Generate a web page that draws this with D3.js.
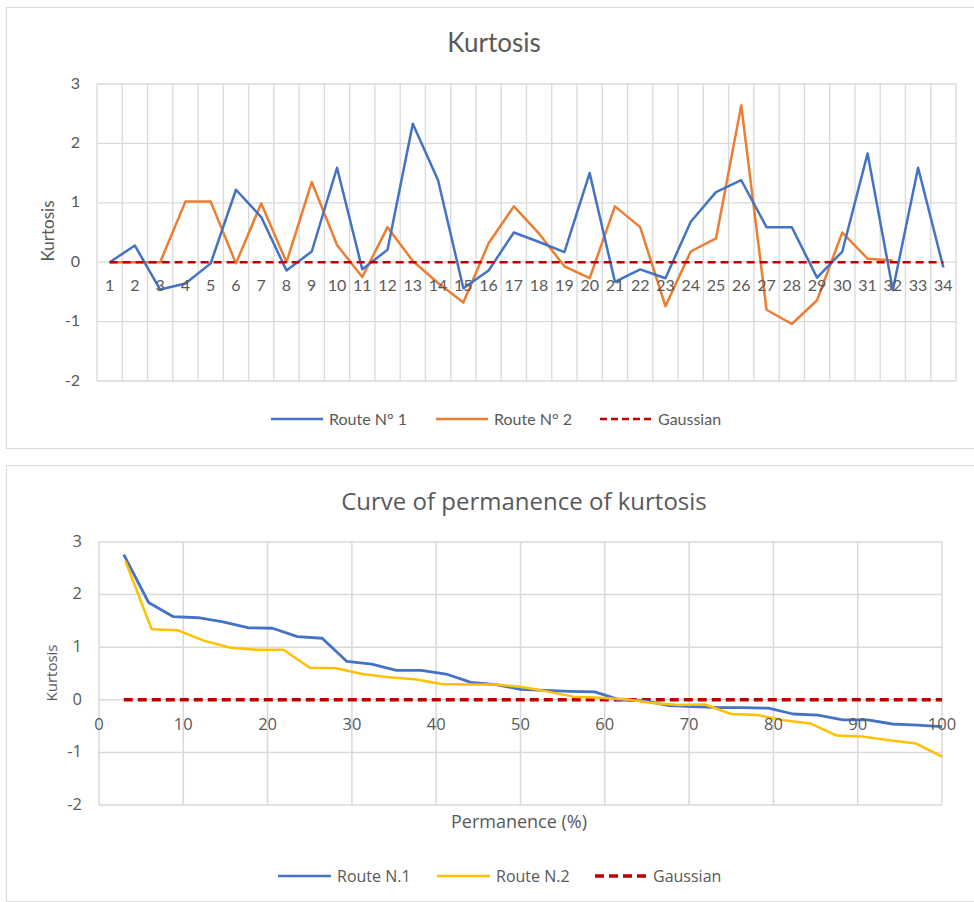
<!DOCTYPE html>
<html>
<head>
<meta charset="utf-8">
<script src="https://cdn.jsdelivr.net/npm/d3@7"></script>
<style>
  html, body { margin: 0; padding: 0; background: #fff; }
  svg { display: block; }
</style>
</head>
<body>
<svg id="chart" width="974" height="902"></svg>
<script>
// ---------- Data: top chart (Kurtosis per section) ----------
const categories = ["1","2","3","4","5","6","7","8","9","10","11","12","13","14","15","16","17","18","19","20","21","22","23","24","25","26","27","28","29","30","31","32","33","34"];
const route1 = [0.00,0.28,-0.46,-0.36,-0.02,1.22,0.76,-0.14,0.18,1.59,-0.12,0.21,2.33,1.38,-0.44,-0.14,0.50,0.34,0.17,1.50,-0.33,-0.12,-0.27,0.68,1.18,1.38,0.59,0.59,-0.26,0.18,1.83,-0.47,1.59,-0.09];
const route2 = [0.00,0.00,0.00,1.02,1.02,-0.02,0.99,0.00,1.35,0.29,-0.25,0.59,0.02,-0.35,-0.68,0.32,0.94,0.48,-0.07,-0.27,0.94,0.59,-0.74,0.18,0.40,2.64,-0.80,-1.04,-0.64,0.50,0.06,0.03,null,null];
const gaussianTop = [0,0,0,0,0,0,0,0,0,0,0,0,0,0,0,0,0,0,0,0,0,0,0,0,0,0,0,0,0,0,0,0,0,0];
const yTicksTop = [-2,-1,0,1,2,3];

// ---------- Data: bottom chart (permanence curve) ----------
const perm1 = [2.94,5.88,8.82,11.76,14.71,17.65,20.59,23.53,26.47,29.41,32.35,35.29,38.24,41.18,44.12,47.06,50,52.94,55.88,58.82,61.76,64.71,67.65,70.59,73.53,76.47,79.41,82.35,85.29,88.24,91.18,94.12,97.06,100];
const curve1 = [2.76,1.85,1.58,1.56,1.48,1.37,1.36,1.20,1.17,0.73,0.68,0.56,0.56,0.49,0.33,0.29,0.20,0.18,0.16,0.15,0.00,-0.02,-0.11,-0.13,-0.15,-0.15,-0.16,-0.27,-0.29,-0.38,-0.38,-0.46,-0.48,-0.51];
const perm2 = [3.13,6.25,9.38,12.5,15.63,18.75,21.88,25,28.13,31.25,34.38,37.5,40.63,43.75,46.88,50,53.13,56.25,59.38,62.5,65.63,68.75,71.88,75,78.13,81.25,84.38,87.5,90.63,93.75,96.88,100];
const curve2 = [2.64,1.34,1.32,1.12,0.99,0.95,0.95,0.61,0.60,0.49,0.43,0.39,0.30,0.29,0.29,0.25,0.16,0.06,0.04,0.01,-0.06,-0.10,-0.09,-0.27,-0.29,-0.39,-0.45,-0.68,-0.70,-0.77,-0.83,-1.08];
const gaussianBottom = [0,0,0,0,0,0,0,0,0,0,0,0,0,0,0,0,0,0,0,0,0,0,0,0,0,0,0,0,0,0,0,0,0,0];
const xTicksBottom = [0,10,20,30,40,50,60,70,80,90,100];
const yTicksBottom = [-2,-1,0,1,2,3];

const C_BLUE = "#4472C4", C_ORANGE = "#ED7D31", C_YELLOW = "#FFC000", C_RED = "#C00000";
const C_GRID = "#d9d9d9", C_TEXT = "#595959";

const svg = d3.select("#chart");

// ================= TOP CHART =================
const gTop = svg.append("g");
gTop.append("rect").attr("x", 6.5).attr("y", 7.5).attr("width", 980).attr("height", 441)
  .attr("fill", "#fff").attr("stroke", C_GRID).attr("stroke-width", 1);

const fTop = "Lato, 'Open Sans', sans-serif";
const xT = d3.scaleBand().domain(categories).range([97, 956]).padding(0);
const yT = d3.scaleLinear().domain([-2, 3]).range([381, 84]);

// horizontal grid
gTop.append("g").selectAll("line").data(yTicksTop).join("line")
  .attr("x1", 97).attr("x2", 956)
  .attr("y1", d => yT(d)).attr("y2", d => yT(d))
  .attr("stroke", C_GRID).attr("stroke-width", 1.3);
// vertical grid at category boundaries
const bounds = categories.map(c => xT(c)).concat([xT(categories[categories.length - 1]) + xT.bandwidth()]);
gTop.append("g").selectAll("line").data(bounds).join("line")
  .attr("x1", d => d).attr("x2", d => d)
  .attr("y1", yT(3)).attr("y2", yT(-2))
  .attr("stroke", C_GRID).attr("stroke-width", 1.3);

// y tick labels
gTop.append("g").selectAll("text").data(yTicksTop).join("text")
  .attr("x", 80).attr("y", d => yT(d) - 1).attr("dy", "0.35em")
  .attr("text-anchor", "end").attr("fill", C_TEXT)
  .style("font-family", fTop).style("font-size", "16px").text(d => d);
// y axis title
gTop.append("text").attr("transform", "translate(54,231) rotate(-90)")
  .attr("text-anchor", "middle").attr("fill", C_TEXT)
  .style("font-family", fTop).style("font-size", "17px").text("Kurtosis");
// title
gTop.append("text").attr("x", 494).attr("y", 43).attr("dy", "0.35em")
  .attr("text-anchor", "middle").attr("fill", C_TEXT)
  .style("font-family", fTop).style("font-size", "26px").text("Kurtosis");

const cx = d => xT(d) + xT.bandwidth() / 2;
const lineTop = d3.line().defined(d => d.v !== null).x(d => cx(d.c)).y(d => yT(d.v));
const zipTop = arr => categories.map((c, i) => ({ c: c, v: arr[i] }));

gTop.append("path").datum(zipTop(route2)).attr("d", lineTop)
  .attr("fill", "none").attr("stroke", C_ORANGE).attr("stroke-width", 2.5).attr("stroke-linejoin", "round");
gTop.append("path").datum(zipTop(route1)).attr("d", lineTop)
  .attr("fill", "none").attr("stroke", C_BLUE).attr("stroke-width", 2.5).attr("stroke-linejoin", "round");
gTop.append("path").datum(zipTop(gaussianTop)).attr("d", lineTop)
  .attr("fill", "none").attr("stroke", C_RED).attr("stroke-width", 2.5).attr("stroke-dasharray", "8,5");

// category labels (just below the 0 line)
gTop.append("g").selectAll("text").data(categories).join("text")
  .attr("x", d => cx(d)).attr("y", yT(0) + 29)
  .attr("text-anchor", "middle").attr("fill", C_TEXT)
  .style("font-family", fTop).style("font-size", "16px").text(d => d);

// legend top
const legTop = [
  { label: "Route N° 1", color: C_BLUE, dash: null, x: 271 },
  { label: "Route N° 2", color: C_ORANGE, dash: null, x: 436 },
  { label: "Gaussian", color: C_RED, dash: "7,4", x: 600 }
];
legTop.forEach(l => {
  gTop.append("line").attr("x1", l.x).attr("x2", l.x + 52).attr("y1", 419).attr("y2", 419)
    .attr("stroke", l.color).attr("stroke-width", 2.5).attr("stroke-dasharray", l.dash);
  gTop.append("text").attr("x", l.x + 58).attr("y", 419).attr("dy", "0.35em")
    .attr("fill", C_TEXT).style("font-family", fTop).style("font-size", "16px").text(l.label);
});

// ================= BOTTOM CHART =================
const gBot = svg.append("g");
gBot.append("rect").attr("x", 6.5).attr("y", 465.5).attr("width", 980).attr("height", 436)
  .attr("fill", "#fff").attr("stroke", C_GRID).attr("stroke-width", 1);

const fBot = "'Open Sans', 'Noto Sans', sans-serif";
const xB = d3.scaleLinear().domain([0, 100]).range([99, 942]);
const yB = d3.scaleLinear().domain([-2, 3]).range([805, 542]);

gBot.append("g").selectAll("line").data(yTicksBottom).join("line")
  .attr("x1", xB(0)).attr("x2", xB(100))
  .attr("y1", d => yB(d)).attr("y2", d => yB(d))
  .attr("stroke", C_GRID).attr("stroke-width", 1.5);
gBot.append("g").selectAll("line").data(xTicksBottom).join("line")
  .attr("x1", d => xB(d)).attr("x2", d => xB(d))
  .attr("y1", yB(3)).attr("y2", yB(-2))
  .attr("stroke", C_GRID).attr("stroke-width", 1.5);

gBot.append("g").selectAll("text").data(yTicksBottom).join("text")
  .attr("x", 82).attr("y", d => yB(d) - 1).attr("dy", "0.35em")
  .attr("text-anchor", "end").attr("fill", C_TEXT)
  .style("font-family", fBot).style("font-size", "16.5px").text(d => d);
gBot.append("text").attr("transform", "translate(57,673) rotate(-90)")
  .attr("text-anchor", "middle").attr("fill", C_TEXT)
  .style("font-family", fBot).style("font-size", "15px").text("Kurtosis");
gBot.append("text").attr("x", 524).attr("y", 502).attr("dy", "0.35em")
  .attr("text-anchor", "middle").attr("fill", C_TEXT)
  .style("font-family", fBot).style("font-size", "24px").text("Curve of permanence of kurtosis");
gBot.append("text").attr("x", 519).attr("y", 822).attr("dy", "0.35em")
  .attr("text-anchor", "middle").attr("fill", C_TEXT)
  .style("font-family", fBot).style("font-size", "18px").text("Permanence (%)");

const lineB = d3.line().x(d => xB(d.p)).y(d => yB(d.v));
const zipB = (ps, vs) => ps.map((p, i) => ({ p: p, v: vs[i] }));

gBot.append("path").datum(zipB(perm1, gaussianBottom)).attr("d", lineB)
  .attr("fill", "none").attr("stroke", C_RED).attr("stroke-width", 3.5).attr("stroke-dasharray", "9,5");
gBot.append("path").datum(zipB(perm1, curve1)).attr("d", lineB)
  .attr("fill", "none").attr("stroke", C_BLUE).attr("stroke-width", 2.8).attr("stroke-linejoin", "round");
gBot.append("path").datum(zipB(perm2, curve2)).attr("d", lineB)
  .attr("fill", "none").attr("stroke", C_YELLOW).attr("stroke-width", 2.5).attr("stroke-linejoin", "round");

gBot.append("g").selectAll("text").data(xTicksBottom).join("text")
  .attr("x", d => xB(d)).attr("y", yB(0) + 30)
  .attr("text-anchor", "middle").attr("fill", C_TEXT)
  .style("font-family", fBot).style("font-size", "16.5px").text(d => d);

const legBot = [
  { label: "Route N.1", color: C_BLUE, dash: null, x: 278 },
  { label: "Route N.2", color: C_YELLOW, dash: null, x: 437 },
  { label: "Gaussian", color: C_RED, dash: "9,5", x: 595 }
];
legBot.forEach(l => {
  gBot.append("line").attr("x1", l.x).attr("x2", l.x + 53).attr("y1", 876).attr("y2", 876)
    .attr("stroke", l.color).attr("stroke-width", l.dash ? 3.5 : 2.5).attr("stroke-dasharray", l.dash);
  gBot.append("text").attr("x", l.x + (l.dash ? 58 : 59)).attr("y", 876).attr("dy", "0.35em")
    .attr("fill", C_TEXT).style("font-family", fBot).style("font-size", "16px").text(l.label);
});
</script>
</body>
</html>
